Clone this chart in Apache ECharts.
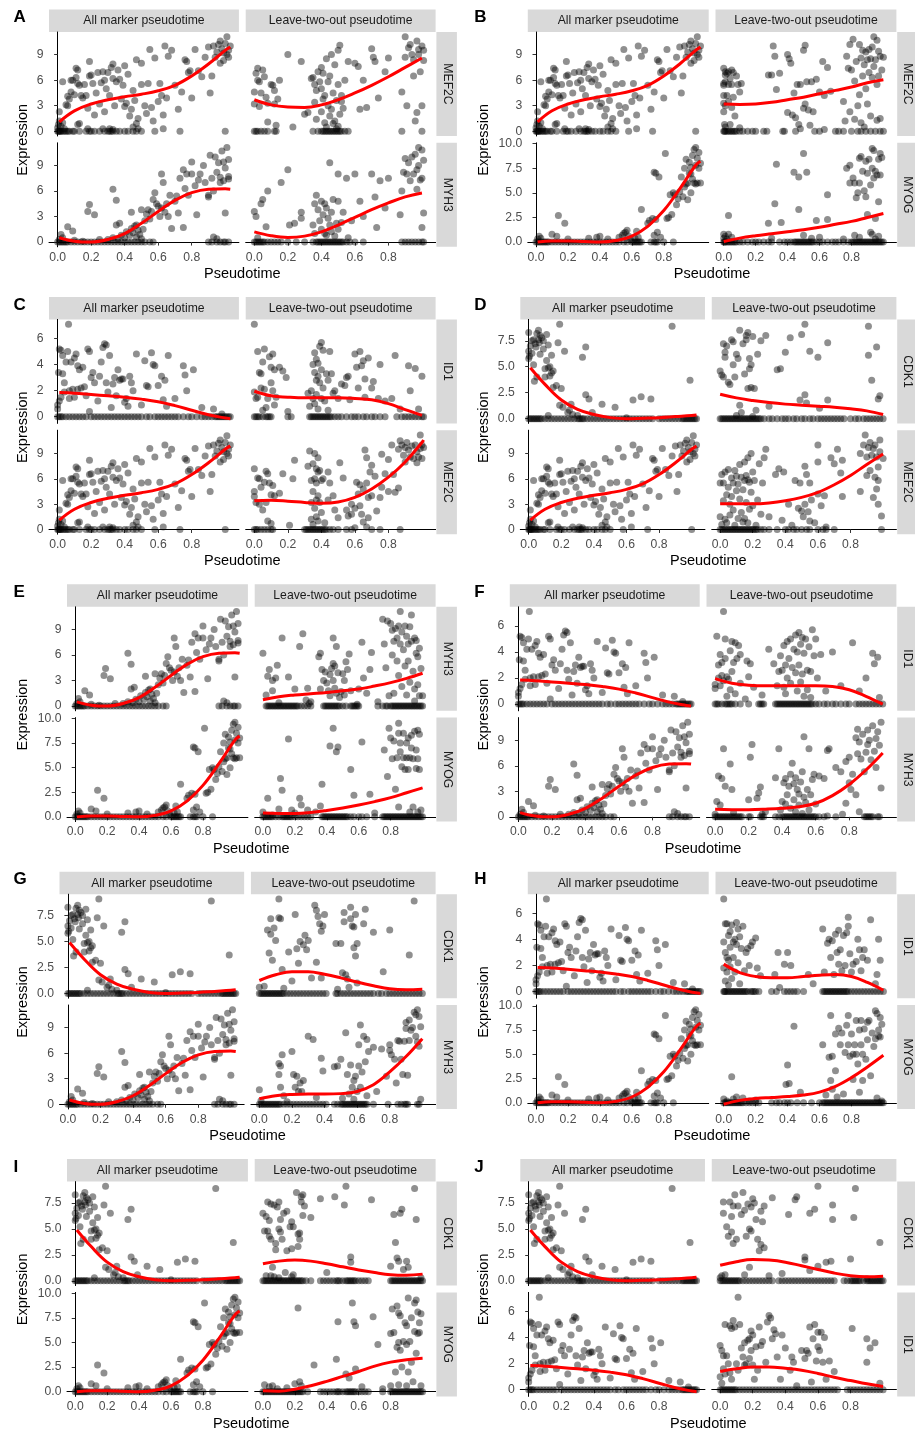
<!DOCTYPE html>
<html><head><meta charset="utf-8">
<script src="https://cdn.jsdelivr.net/npm/echarts@6/dist/echarts.min.js"></script>
<style>html,body{margin:0;padding:0;background:#fff}#c{width:915px;height:1437px}</style>
</head><body><div id="c"></div>
<script>
// ---------------- DATA ----------------
const panelLetters = ['A','B','C','D','E','F','G','H','I','J'];
const panelGenes = [['MEF2C','MYH3'],['MEF2C','MYOG'],['ID1','MEF2C'],['CDK1','MEF2C'],['MYH3','MYOG'],['ID1','MYH3'],['CDK1','MYH3'],['ID1','MYOG'],['CDK1','MYOG'],['CDK1','ID1']];
const stripLabels = ['All marker pseudotime','Leave-two-out pseudotime'];
const xTitle = 'Pseudotime';
const yTitle = 'Expression';
const xTicks = [0,0.2,0.4,0.6,0.8];
const yTicksMEF2C = [0,3,6,9];
const yTicksMYH3 = [0,3,6,9];
const yTicksMYOG = [0,2.5,5,7.5,10];
const yTicksID1 = [0,2,4,6];
const yTicksCDK1 = [0,2.5,5,7.5];

// All-marker pseudotime: non-zero points [pseudotime, expression]; *0 arrays = pseudotime of cells with expression 0
const allMEF2C = [[.0,.4],[.005,.8],[.01,1.2],[.02,.6],[.03,1.0],[.04,.3],[.12,.8],[.13,.9],[.18,.3],[.27,.3],[.31,.3],[.33,.2],[.45,.5],[.47,.9],[.48,.3],[.63,.3],[.01,2.3],[.03,5.8],[.05,3.1],[.06,3.0],[.06,4.1],[.07,3.8],[.08,4.6],[.08,6.0],[.09,6.0],[.1,4.3],[.11,7.4],[.12,7.2],[.11,6.3],[.12,5.6],[.13,5.4],[.14,4.2],[.15,3.9],[.16,5.5],[.17,4.2],[.18,2.7],[.19,8.2],[.19,6.5],[.2,6.6],[.21,5.6],[.22,1.9],[.23,4.5],[.24,6.9],[.25,3.2],[.26,5.7],[.27,7.0],[.28,6.0],[.28,2.3],[.29,5.0],[.3,6.9],[.31,4.2],[.32,7.5],[.33,7.9],[.33,6.2],[.34,3.0],[.35,5.8],[.36,7.2],[.37,6.1],[.38,3.8],[.39,5.4],[.4,7.7],[.4,2.9],[.41,3.3],[.42,6.7],[.43,1.8],[.44,2.6],[.45,4.8],[.46,3.6],[.47,8.4],[.48,1.5],[.5,5.5],[.5,8.0],[.52,3.0],[.53,2.1],[.54,5.6],[.55,9.6],[.56,2.8],[.57,1.2],[.58,8.6],[.6,3.5],[.61,5.6],[.62,4.2],[.63,1.9],[.64,10.0],[.65,3.9],[.66,8.8],[.68,9.5],[.7,5.4],[.72,2.6],[.74,4.6],[.76,8.4],[.77,8.2],[.78,6.9],[.79,7.1],[.8,3.9],[.82,9.6],[.84,7.1],[.86,6.4],[.88,8.7],[.9,9.9],[.91,4.5],[.92,6.5],[.93,10.0],[.94,8.7],[.95,9.3],[.96,10.2],[.97,10.6],[.98,9.7],[.99,8.3],[1.0,10.3],[1.01,11.1],[1.01,9.0],[1.02,8.7],[1.02,9.5],[1.03,10.0],[.99,9.2],[.97,8.0]];
const allMEF2C0 = [0,.005,.01,.015,.02,.03,.04,.05,.06,.07,.09,.1,.13,.17,.19,.2,.22,.25,.28,.3,.31,.32,.33,.35,.37,.4,.42,.45,.47,.5,.58,.73,1.0];
const allMYH3 = [[.01,.3],[.02,.9],[.03,.5],[.06,1.8],[.09,1.3],[.1,.2],[.15,.1],[.25,.3],[.3,.3],[.33,.5],[.36,.4],[.38,.8],[.4,.5],[.41,1.2],[.43,.8],[.44,1.6],[.45,1.1],[.46,1.9],[.47,.6],[.48,1.4],[.49,.9],[.5,.4],[.51,1.5],[.93,.6],[.95,.4],[.18,3.6],[.19,4.4],[.22,3.2],[.33,6.2],[.35,4.9],[.35,2.0],[.37,2.2],[.44,3.5],[.47,2.0],[.5,3.8],[.52,2.5],[.53,3.3],[.54,3.8],[.55,2.7],[.56,3.6],[.57,5.0],[.58,5.8],[.59,4.5],[.6,4.2],[.61,3.0],[.62,8.0],[.62,4.0],[.63,7.0],[.64,3.5],[.65,4.5],[.66,3.0],[.67,5.5],[.68,1.6],[.7,4.8],[.71,5.4],[.72,3.4],[.73,7.5],[.75,8.5],[.75,1.7],[.76,6.3],[.77,8.0],[.78,5.5],[.8,9.4],[.8,8.0],[.82,6.6],[.83,3.2],[.84,7.3],[.85,8.0],[.87,9.0],[.88,7.0],[.9,5.3],[.9,5.5],[.91,10.2],[.92,7.5],[.93,6.0],[.94,10.0],[.95,8.2],[.96,9.3],[.97,7.6],[.98,10.7],[.99,9.4],[.99,7.2],[1.0,8.7],[1.0,3.4],[1.01,11.1],[1.02,7.7],[1.02,9.7],[1.02,7.4],[.97,7.0]];
const allMYH30 = [0,.01,.02,.03,.04,.05,.06,.08,.1,.12,.14,.16,.18,.2,.22,.24,.26,.28,.3,.32,.34,.36,.38,.4,.42,.44,.46,.48,.5,.52,.55,.57,.9,.92,.95,.97,.99,1.0,1.02];
const allMYOG = [[.01,.3],[.02,.6],[.03,.4],[.1,.8],[.13,.6],[.2,.3],[.33,.4],[.38,.5],[.4,.6],[.45,.3],[.52,.5],[.54,.7],[.55,.9],[.56,1.0],[.57,1.2],[.58,.6],[.59,.3],[.62,.4],[.63,1.1],[.64,.5],[.66,3.3],[.7,1.9],[.71,2.2],[.73,2.4],[.74,.7],[.75,2.3],[.76,1.0],[.78,.5],[.14,2.7],[.18,1.9],[.74,7.1],[.75,7.0],[.77,6.6],[.81,9.0],[.82,2.4],[.83,2.5],[.84,4.8],[.85,2.8],[.86,5.0],[.87,4.8],[.88,3.8],[.89,4.4],[.9,5.1],[.91,6.6],[.92,4.6],[.93,7.5],[.93,5.6],[.94,8.4],[.95,4.3],[.95,6.0],[.96,8.1],[.96,7.0],[.97,7.6],[.97,5.0],[.98,8.8],[.98,6.4],[.99,9.4],[.99,6.0],[1.0,9.6],[1.0,7.8],[1.01,8.5],[1.01,6.0],[1.02,9.1],[1.02,7.5],[1.03,8.0],[1.03,6.0],[.94,5.9],[.97,6.9],[1.0,5.9]];
const allMYOG0 = [0,.01,.02,.03,.04,.05,.06,.07,.08,.1,.12,.14,.16,.18,.2,.22,.24,.26,.28,.3,.32,.34,.36,.38,.4,.42,.44,.46,.48,.5,.52,.55,.57,.6,.61,.62,.63,.64,.65,.66,.72,.74,.75,.76,.8,.86];
const allID1 = [[.0,.6],[.0,.9],[.01,1.2],[.005,3.4],[.01,5.2],[.02,5.1],[.02,1.5],[.03,4.7],[.03,3.3],[.04,2.6],[.04,1.9],[.05,4.2],[.06,5.0],[.065,7.1],[.07,1.4],[.07,2.0],[.08,4.2],[.09,2.1],[.1,4.5],[.1,1.5],[.11,4.8],[.12,3.9],[.12,2.1],[.13,3.6],[.14,2.2],[.15,3.8],[.16,2.3],[.17,1.6],[.18,5.2],[.19,5.0],[.19,.4],[.2,3.0],[.21,3.4],[.22,2.6],[.24,1.2],[.25,3.1],[.26,4.2],[.27,5.3],[.28,5.6],[.29,5.5],[.29,2.6],[.3,1.9],[.31,4.7],[.32,.7],[.33,2.5],[.34,3.0],[.35,1.6],[.36,3.6],[.37,2.8],[.38,2.9],[.39,2.9],[.4,1.1],[.41,1.4],[.42,.8],[.43,3.1],[.44,2.6],[.45,2.0],[.47,4.8],[.5,.9],[.52,4.3],[.53,2.4],[.54,2.3],[.56,4.9],[.57,4.0],[.58,3.9],[.6,2.4],[.62,3.1],[.63,1.3],[.64,2.8],[.65,.8],[.66,4.7],[.7,1.4],[.75,3.9],[.76,3.2],[.77,2.0],[.81,3.6],[.86,.7],[.93,.6],[.98,.2]];
const allID10 = [0,.01,.02,.03,.05,.07,.09,.11,.13,.15,.17,.2,.22,.24,.26,.28,.3,.32,.34,.36,.38,.4,.42,.44,.46,.48,.5,.53,.55,.58,.6,.62,.64,.66,.68,.7,.72,.75,.78,.8,.83,.86,.88,.9,.92,.94,.95,.96,.97,.98,.99,1.0,1.01,1.02,1.03];
const allCDK1 = [[.0,8.3],[.0,6.5],[.0,5.8],[.005,6.0],[.01,7.0],[.02,7.5],[.02,6.3],[.03,7.6],[.03,5.2],[.035,3.6],[.04,7.2],[.045,6.9],[.05,8.2],[.05,4.0],[.06,8.5],[.06,7.6],[.065,7.3],[.07,6.2],[.07,8.0],[.08,7.8],[.09,6.7],[.09,7.5],[.1,4.8],[.1,4.0],[.11,8.1],[.11,5.6],[.12,4.9],[.12,7.1],[.13,4.1],[.13,5.0],[.14,4.4],[.14,6.1],[.15,3.0],[.15,4.6],[.17,3.2],[.19,9.1],[.18,7.3],[.19,1.3],[.2,2.9],[.21,1.1],[.22,6.5],[.24,.6],[.25,.8],[.26,1.4],[.27,.4],[.3,.3],[.33,5.9],[.35,6.9],[.35,2.3],[.37,1.9],[.39,.6],[.45,1.4],[.53,1.1],[.64,1.8],[.69,2.1],[.75,1.9],[.88,8.9],[.99,3.7],[.12,.3],[.6,.1]];
const allCDK10 = [0,.01,.02,.03,.04,.05,.06,.07,.08,.1,.12,.14,.16,.18,.2,.22,.24,.26,.28,.3,.31,.32,.33,.34,.36,.38,.4,.42,.44,.46,.48,.5,.52,.54,.56,.58,.6,.62,.64,.66,.68,.7,.72,.74,.76,.8,.82,.84,.86,.88,.9,.92,.94,.95,.96,.97,.98,.99,1.0,1.01,1.02,1.03];

// All-marker smooth curves [pseudotime, fitted expression]
const curveAllMEF2C = [[.01,1.1],[.1,2.4],[.2,3.2],[.3,3.7],[.4,4.05],[.5,4.35],[.6,4.75],[.7,5.4],[.8,6.5],[.9,7.9],[1.0,9.5],[1.03,9.9]];
const curveAllMYH3 = [[.01,.5],[.1,.1],[.2,.0],[.3,.3],[.4,1.0],[.5,2.2],[.6,3.6],[.7,4.9],[.8,5.8],[.9,6.2],[1.0,6.25],[1.03,6.2]];
const curveAllMYOG = [[.01,.0],[.1,.1],[.2,.1],[.3,.05],[.4,.0],[.5,.15],[.6,.6],[.7,1.6],[.8,3.2],[.9,5.4],[1.0,7.8],[1.03,8.2]];
const curveAllID1 = [[.01,1.85],[.1,1.8],[.2,1.7],[.3,1.6],[.4,1.5],[.5,1.35],[.6,1.15],[.7,.85],[.8,.5],[.9,.15],[1.0,-.1],[1.03,-.15]];
const curveAllCDK1 = [[.01,4.9],[.1,3.3],[.2,1.8],[.3,.9],[.4,.4],[.5,.1],[.6,.0],[.7,.05],[.8,.1],[.9,.2],[1.0,.3],[1.03,.35]];

// Leave-two-out pseudotime, one pair of facets per panel
const ltoA_MEF2C = [[.0,4.6],[.0,3.2],[.01,6.8],[.02,7.4],[.02,6.0],[.03,5.8],[.04,4.5],[.05,7.2],[.06,6.4],[.07,4.0],[.08,1.1],[.1,5.5],[.11,5.4],[.12,3.2],[.12,4.8],[.13,.7],[.14,3.8],[.15,6.0],[.08,3.3],[.03,2.9],[.2,9.0],[.23,.5],[.28,8.2],[.3,2.0],[.32,2.2],[.34,6.2],[.35,6.3],[.36,5.5],[.36,3.4],[.37,1.4],[.37,4.8],[.38,7.0],[.39,5.8],[.4,5.0],[.4,7.5],[.4,2.3],[.41,3.8],[.41,6.8],[.42,1.0],[.42,4.2],[.43,8.5],[.43,.5],[.44,5.8],[.44,3.0],[.45,6.5],[.45,1.8],[.46,9.0],[.46,2.6],[.47,4.5],[.47,.9],[.48,7.8],[.48,1.2],[.49,3.6],[.49,.3],[.5,9.5],[.5,5.5],[.5,.6],[.51,10.1],[.51,2.0],[.52,4.2],[.52,3.5],[.53,2.7],[.54,6.0],[.56,8.2],[.6,8.0],[.62,7.6],[.63,2.6],[.65,6.0],[.67,2.8],[.7,9.7],[.71,8.7],[.72,8.2],[.74,3.9],[.78,7.0],[.8,8.6],[.88,4.6],[.9,8.7],[.9,11.1],[.91,3.0],[.92,9.8],[.93,10.2],[.94,9.0],[.95,8.4],[.96,1.2],[.97,10.6],[.98,9.6],[.98,9.0],[.99,7.0],[1.0,10.0],[1.0,3.0],[1.01,9.5],[1.01,8.3],[.95,6.5],[.97,2.2]];
const ltoA_MEF2C0 = [0,.01,.02,.04,.06,.08,.12,.13,.35,.38,.4,.41,.42,.43,.44,.45,.46,.47,.48,.49,.5,.51,.52,.54,.56,.88,1.0];
const ltoA_MYH3 = [[.0,3.6],[.01,3.0],[.02,.5],[.04,4.5],[.05,5.0],[.07,1.8],[.08,6.0],[.16,7.0],[.2,8.5],[.21,2.0],[.24,2.2],[.28,3.5],[.28,2.8],[.35,2.0],[.36,4.5],[.36,1.0],[.37,5.5],[.38,3.8],[.39,2.5],[.4,4.8],[.4,1.5],[.41,3.2],[.42,4.5],[.42,1.0],[.43,.8],[.43,4.0],[.44,2.8],[.45,9.3],[.45,2.0],[.46,3.5],[.46,1.2],[.47,5.0],[.48,.7],[.49,2.2],[.5,8.0],[.5,4.8],[.5,1.5],[.52,2.3],[.53,3.5],[.55,7.5],[.56,.5],[.58,2.5],[.6,8.0],[.63,4.8],[.65,3.0],[.7,8.0],[.72,5.3],[.73,1.7],[.75,7.2],[.78,4.0],[.8,7.5],[.87,3.2],[.88,6.0],[.89,8.2],[.9,9.8],[.91,8.0],[.92,9.3],[.93,7.2],[.94,10.0],[.95,8.0],[.96,10.3],[.97,8.5],[.97,6.2],[.98,11.1],[.98,9.0],[.99,7.3],[1.0,10.8],[1.0,7.5],[1.0,1.7],[1.01,9.6],[1.01,3.4]];
const ltoA_MYH30 = [0,.01,.02,.03,.04,.05,.06,.08,.1,.12,.14,.16,.2,.25,.3,.35,.37,.38,.39,.4,.41,.42,.43,.44,.45,.46,.47,.48,.49,.5,.51,.52,.53,.55,.57,.6,.65,.88,.9,.92,.94,.96,.98,1.0,1.01];
const ltoB_MEF2C = [[.0,7.4],[.0,5.6],[.0,5.4],[.0,4.2],[.0,3.3],[.0,2.3],[.005,.8],[.01,7.0],[.01,6.6],[.01,5.8],[.01,3.0],[.01,.5],[.02,6.8],[.02,4.2],[.03,7.0],[.03,5.5],[.03,3.5],[.04,6.2],[.04,.8],[.05,7.2],[.05,5.5],[.05,2.8],[.06,6.9],[.06,4.0],[.07,1.8],[.08,6.5],[.09,5.5],[.1,4.6],[.11,5.6],[.1,.4],[.28,6.6],[.3,6.6],[.31,10.0],[.32,8.8],[.33,4.9],[.35,6.8],[.4,9.0],[.4,2.2],[.41,8.5],[.42,8.0],[.43,1.9],[.44,4.5],[.45,1.6],[.46,5.5],[.47,.8],[.48,5.5],[.48,.3],[.5,9.5],[.5,2.7],[.51,10.1],[.51,3.2],[.52,5.8],[.53,2.5],[.54,.7],[.55,5.8],[.56,2.3],[.58,6.1],[.6,4.6],[.62,8.2],[.63,4.2],[.63,.2],[.65,7.5],[.67,4.7],[.75,3.5],[.76,1.2],[.77,8.8],[.78,7.4],[.79,10.2],[.79,2.3],[.8,7.2],[.81,10.8],[.82,5.9],[.82,1.4],[.83,8.2],[.84,3.0],[.85,10.2],[.85,4.3],[.86,8.6],[.86,1.0],[.87,9.5],[.87,6.5],[.88,7.8],[.88,.5],[.89,9.3],[.89,5.0],[.9,8.4],[.9,3.2],[.91,9.6],[.91,6.9],[.92,8.5],[.92,1.8],[.93,9.9],[.93,6.3],[.94,11.1],[.94,7.6],[.95,8.4],[.96,10.7],[.96,5.5],[.96,1.3],[.97,9.4],[.97,6.5],[.98,8.8],[.98,1.5],[.99,7.2],[1.0,8.7]];
const ltoB_MEF2C0 = [0,.005,.01,.02,.03,.04,.05,.06,.07,.08,.1,.12,.15,.18,.2,.25,.27,.37,.38,.45,.57,.6,.7,.72,.75,.8,.84,.86,.89,.92,.95,.98,1.0];
const ltoB_MYOG = [[.0,.4],[.0,.8],[.01,.6],[.02,.3],[.03,.8],[.05,.5],[.3,.4],[.5,.7],[.55,.4],[.6,.5],[.75,.3],[.82,.7],[.85,.5],[.92,1.0],[.93,.8],[.95,.3],[.97,.6],[.03,2.7],[.28,1.9],[.32,3.9],[.33,7.9],[.36,2.0],[.44,7.1],[.47,6.6],[.47,3.3],[.5,9.0],[.52,7.1],[.58,2.2],[.65,4.8],[.65,2.3],[.77,7.5],[.79,7.8],[.79,6.0],[.81,6.5],[.82,6.0],[.83,4.5],[.84,5.0],[.85,8.5],[.85,6.0],[.86,8.7],[.87,7.2],[.88,5.2],[.89,8.2],[.89,4.6],[.9,7.0],[.9,2.8],[.91,8.4],[.92,5.8],[.93,9.5],[.93,7.5],[.94,9.3],[.94,6.5],[.95,7.2],[.95,2.4],[.96,6.8],[.97,8.4],[.97,4.1],[.98,9.0],[.98,6.8],[.99,8.6]];
const ltoB_MYOG0 = [0,.005,.01,.02,.03,.04,.05,.06,.07,.08,.1,.12,.15,.18,.2,.22,.25,.28,.3,.35,.38,.4,.42,.44,.45,.46,.47,.48,.49,.5,.51,.52,.53,.54,.55,.56,.58,.6,.62,.65,.68,.7,.72,.75,.78,.8,.81,.82,.83,.84,.85,.86,.87,.88,.89,.9,.91,.92,.93,.94,.95,.96,.97,.98,.99,1.0];
const ltoC_ID1 = [[.0,7.1],[.0,1.9],[.01,1.4],[.02,1.5],[.02,5.0],[.03,3.4],[.04,2.2],[.04,3.3],[.05,.5],[.05,4.2],[.06,2.1],[.06,5.2],[.07,.7],[.08,1.4],[.09,4.6],[.1,3.8],[.1,2.6],[.11,4.8],[.11,2.0],[.12,3.6],[.12,.9],[.13,1.5],[.15,3.8],[.17,3.5],[.19,3.0],[.2,.4],[.32,1.8],[.33,.8],[.34,2.0],[.35,4.0],[.35,1.4],[.36,4.9],[.36,3.4],[.36,1.0],[.37,4.4],[.37,2.8],[.37,1.7],[.38,4.1],[.38,3.1],[.38,.6],[.39,5.4],[.39,2.6],[.4,5.7],[.4,3.6],[.4,1.4],[.41,5.1],[.41,2.2],[.42,1.2],[.43,3.3],[.44,2.8],[.44,.5],[.45,5.0],[.46,3.3],[.47,1.8],[.48,2.0],[.5,1.4],[.52,2.5],[.54,2.4],[.55,3.0],[.56,3.1],[.57,1.3],[.6,4.8],[.61,3.8],[.62,2.2],[.63,5.0],[.64,3.9],[.65,4.3],[.66,1.5],[.66,2.9],[.68,4.5],[.7,2.2],[.71,2.7],[.74,1.4],[.75,4.0],[.78,1.2],[.82,1.4],[.84,4.7],[.87,.6],[.92,3.9],[.93,2.0],[.96,3.7],[.98,.6],[1.0,3.1]];
const ltoC_ID10 = [0,.01,.02,.03,.05,.07,.08,.09,.1,.2,.22,.33,.34,.35,.36,.37,.38,.39,.4,.41,.42,.43,.44,.45,.46,.48,.5,.52,.55,.58,.6,.62,.65,.67,.7,.72,.75,.78,.85,.88,.9,.92,.94,.96,.98,1.0,1.01];
const ltoC_MEF2C = [[.0,3.9],[.0,7.2],[.0,4.5],[.01,3.2],[.02,6.1],[.03,6.0],[.03,3.0],[.04,5.0],[.05,2.3],[.06,5.6],[.07,6.9],[.07,3.2],[.08,6.6],[.08,1.0],[.09,5.5],[.1,4.1],[.1,.7],[.11,5.2],[.12,4.0],[.15,4.3],[.17,6.6],[.21,.5],[.23,6.0],[.24,8.2],[.32,7.5],[.33,9.3],[.34,5.8],[.34,3.2],[.34,1.2],[.35,7.8],[.35,4.5],[.35,.6],[.36,9.0],[.36,6.0],[.36,2.5],[.37,7.2],[.37,5.5],[.37,3.5],[.37,1.5],[.38,8.5],[.38,6.8],[.38,4.0],[.38,1.0],[.39,7.0],[.39,3.2],[.4,5.8],[.4,2.0],[.41,6.0],[.42,.8],[.44,6.8],[.44,3.5],[.45,5.5],[.47,4.0],[.48,2.3],[.5,1.4],[.51,7.9],[.53,6.1],[.55,2.3],[.56,1.6],[.58,1.8],[.58,3.0],[.6,2.5],[.61,5.6],[.62,4.2],[.63,2.8],[.63,5.3],[.64,1.8],[.65,.9],[.65,4.8],[.66,9.4],[.67,8.5],[.67,5.5],[.68,1.4],[.68,3.8],[.69,6.8],[.7,7.6],[.7,4.0],[.72,6.3],[.73,2.2],[.75,3.8],[.76,8.9],[.76,5.0],[.78,6.6],[.8,4.5],[.8,8.3],[.82,10.0],[.83,6.5],[.84,4.4],[.86,4.9],[.86,9.5],[.87,10.5],[.88,10.0],[.89,8.8],[.9,9.7],[.9,8.0],[.91,10.3],[.92,9.4],[.93,8.6],[.94,9.9],[.95,8.4],[.96,10.0],[.97,9.2],[.98,8.6],[.99,11.2],[.99,9.6],[1.0,10.0],[1.0,8.4],[1.01,9.7],[.97,7.9],[.67,.3],[.6,.2]];
const ltoC_MEF2C0 = [0,.01,.02,.04,.06,.08,.1,.11,.3,.31,.32,.33,.34,.35,.36,.37,.38,.39,.4,.41,.42,.43,.45,.47,.5,.55,.58,.7,.75,.87];
const ltoD_CDK1 = [[.0,4.6],[.01,4.2],[.02,7.2],[.02,4.0],[.03,6.4],[.03,5.9],[.04,7.0],[.05,3.5],[.06,3.3],[.07,7.6],[.08,7.4],[.08,5.2],[.09,4.0],[.1,6.2],[.11,5.8],[.12,8.5],[.12,1.3],[.13,.6],[.14,7.2],[.15,4.3],[.16,8.0],[.16,7.6],[.17,8.3],[.17,2.9],[.18,5.8],[.18,4.8],[.19,5.2],[.19,3.0],[.2,7.9],[.21,2.9],[.22,.8],[.23,6.2],[.25,7.5],[.28,8.0],[.3,1.2],[.35,4.7],[.37,4.8],[.4,6.4],[.43,7.8],[.49,1.8],[.5,8.1],[.52,9.1],[.52,2.3],[.53,1.5],[.55,6.5],[.6,5.9],[.61,1.0],[.66,7.3],[.66,1.8],[.91,6.1],[.91,8.9],[.93,3.7],[.96,6.9],[.97,1.9],[.98,2.2],[.1,.3],[.2,.2]];
const ltoD_CDK10 = [0,.01,.02,.03,.04,.05,.06,.07,.08,.09,.1,.11,.12,.13,.14,.15,.16,.17,.18,.19,.2,.21,.22,.23,.24,.25,.27,.3,.32,.35,.38,.4,.42,.45,.47,.5,.52,.55,.57,.6,.62,.64,.66,.68,.7,.72,.74,.76,.8,.83,.85,.88,.9,.92,.94,.96,.98,1.0];
const ltoD_MEF2C = [[.0,5.5],[.0,1.5],[.01,6.5],[.01,.6],[.02,5.5],[.02,3.4],[.03,6.8],[.03,1.2],[.04,4.1],[.04,.8],[.05,7.1],[.05,5.0],[.06,3.0],[.06,1.7],[.07,6.1],[.07,3.9],[.08,5.5],[.08,2.3],[.09,7.0],[.09,.5],[.1,6.3],[.1,4.6],[.11,5.4],[.11,1.3],[.12,7.7],[.12,3.6],[.13,6.2],[.13,2.0],[.14,4.7],[.14,.9],[.15,8.0],[.15,5.8],[.15,1.3],[.16,6.4],[.16,3.2],[.17,8.5],[.17,5.9],[.17,.8],[.18,5.6],[.18,2.4],[.19,9.0],[.19,4.4],[.2,6.8],[.2,2.8],[.21,5.8],[.22,.5],[.23,3.5],[.24,7.8],[.25,1.8],[.26,5.5],[.27,8.5],[.28,9.5],[.3,1.5],[.34,6.5],[.36,7.2],[.38,1.1],[.39,6.8],[.42,3.0],[.44,.5],[.46,5.8],[.48,2.5],[.49,5.5],[.5,2.2],[.51,1.5],[.52,7.5],[.52,3.0],[.53,6.5],[.54,2.1],[.55,5.5],[.55,1.0],[.56,3.5],[.58,.8],[.6,10.0],[.6,8.0],[.6,4.2],[.62,2.8],[.64,4.0],[.65,.3],[.68,8.5],[.7,7.8],[.72,9.5],[.75,3.9],[.75,8.2],[.74,6.7],[.86,4.5],[.86,9.0],[.88,10.0],[.89,11.2],[.9,8.6],[.9,6.4],[.91,9.7],[.92,7.0],[.92,10.3],[.93,8.8],[.94,9.6],[.95,6.2],[.95,10.0],[.96,4.8],[.96,8.6],[.97,3.0],[.97,7.4],[.98,10.6],[.98,9.2],[.99,1.6],[1.0,8.4],[.94,3.8],[.97,5.8]];
const ltoD_MEF2C0 = [0,.01,.02,.03,.04,.05,.06,.07,.08,.09,.1,.11,.12,.13,.14,.15,.16,.17,.18,.19,.2,.21,.22,.23,.25,.27,.3,.35,.4,.42,.45,.47,.5,.53,.55,.6,.63,.65,.7,.99];
const ltoE_MYH3 = [[.0,6.2],[.02,1.3],[.03,3.5],[.04,4.3],[.06,3.0],[.06,1.8],[.08,3.3],[.09,4.8],[.1,.4],[.12,8.0],[.16,3.4],[.2,2.0],[.23,7.0],[.25,8.5],[.27,.7],[.28,2.1],[.29,.3],[.3,.5],[.35,5.8],[.36,6.2],[.36,2.0],[.37,4.3],[.38,3.0],[.39,4.0],[.4,2.7],[.41,1.8],[.42,1.2],[.42,3.7],[.43,4.4],[.44,8.0],[.44,5.0],[.44,3.0],[.45,4.7],[.45,2.1],[.46,7.0],[.46,1.5],[.47,3.9],[.48,1.0],[.49,1.7],[.5,3.8],[.51,1.3],[.51,3.0],[.52,5.2],[.53,4.3],[.54,6.1],[.55,1.8],[.59,.2],[.6,2.0],[.62,7.5],[.63,3.3],[.65,1.5],[.67,4.3],[.68,6.3],[.72,.5],[.75,10.2],[.76,7.3],[.77,4.5],[.78,10.0],[.79,1.2],[.8,9.7],[.81,8.9],[.81,6.0],[.82,1.5],[.82,7.6],[.83,9.1],[.84,8.0],[.84,5.3],[.85,9.4],[.85,3.6],[.86,11.1],[.86,7.3],[.87,8.7],[.87,2.3],[.88,6.6],[.89,9.4],[.89,4.7],[.9,1.3],[.9,8.2],[.91,7.3],[.91,5.3],[.92,9.3],[.92,2.8],[.93,10.7],[.93,7.6],[.94,4.1],[.95,8.0],[.95,.6],[.96,7.7],[.96,6.2],[.97,5.8],[.97,2.5],[.98,6.8],[.98,1.2],[.99,4.4],[1.0,1.2],[.95,2.0]];
const ltoE_MYH30 = [.02,.03,.04,.05,.06,.07,.08,.09,.1,.11,.12,.13,.14,.15,.16,.17,.18,.19,.2,.21,.22,.24,.26,.28,.3,.38,.39,.4,.41,.42,.43,.44,.45,.46,.47,.48,.5,.52,.55,.56,.57,.58,.59,.6,.72,.75,.77,.78,.8,.81,.82,.83,.84,.85,.86,.87,.88,.89,.9,.91,.92,.93,.94,.95,.96,.97,.98,.99,1.0];
const ltoE_MYOG = [[.0,.5],[.03,1.9],[.06,.2],[.1,.8],[.11,3.9],[.12,2.7],[.16,7.9],[.18,.7],[.2,.4],[.23,1.9],[.24,1.2],[.28,.7],[.33,.5],[.36,1.1],[.37,3.3],[.42,7.2],[.44,9.0],[.46,6.6],[.47,7.1],[.55,4.8],[.57,2.2],[.62,7.6],[.67,2.3],[.7,.4],[.76,6.8],[.78,4.1],[.79,9.0],[.8,8.0],[.81,5.9],[.82,7.7],[.83,2.8],[.84,6.0],[.85,9.5],[.85,8.5],[.85,1.0],[.86,7.5],[.86,6.6],[.87,5.1],[.88,8.5],[.88,6.0],[.89,4.8],[.9,7.5],[.9,6.0],[.91,8.0],[.91,4.8],[.92,6.0],[.92,.5],[.93,8.3],[.93,7.0],[.94,5.9],[.95,8.7],[.96,4.9],[.96,6.8],[.97,8.8],[.97,5.9],[.98,8.4],[.98,4.8],[.99,.7],[.94,1.0],[.97,.5]];
const ltoE_MYOG0 = [0,.01,.02,.03,.04,.05,.06,.08,.1,.12,.13,.14,.15,.16,.17,.18,.2,.22,.24,.26,.28,.3,.37,.38,.39,.4,.41,.42,.43,.44,.45,.46,.47,.48,.49,.5,.51,.52,.53,.55,.57,.6,.62,.65,.7,.75,.76,.77,.78,.79,.8,.81,.82,.83,.84,.85,.86,.87,.88,.89,.9,.91,.92,.93,.94,.95,.96,.97,.98,.99,1.0];
const ltoF_ID1 = [[.0,1.5],[.0,1.2],[.01,5.2],[.02,2.0],[.02,3.0],[.03,1.4],[.03,3.8],[.04,2.2],[.04,3.2],[.05,7.1],[.05,1.8],[.06,5.0],[.06,3.5],[.07,2.1],[.07,.6],[.08,1.9],[.09,1.1],[.09,4.1],[.1,4.8],[.1,2.5],[.11,3.2],[.12,4.7],[.12,.8],[.13,3.5],[.14,4.5],[.15,1.6],[.15,3.8],[.18,.4],[.19,3.3],[.2,2.1],[.21,3.1],[.23,1.3],[.28,.7],[.32,4.2],[.35,3.1],[.37,1.4],[.38,2.5],[.39,3.7],[.4,2.6],[.41,4.5],[.41,1.3],[.42,3.0],[.42,.8],[.43,4.8],[.43,2.0],[.44,3.5],[.45,1.6],[.45,5.0],[.46,2.8],[.47,4.2],[.48,5.3],[.48,2.4],[.49,4.0],[.49,1.0],[.5,5.5],[.5,3.0],[.51,4.6],[.51,1.7],[.52,5.1],[.52,2.3],[.53,3.9],[.53,.6],[.54,5.0],[.55,2.6],[.55,1.1],[.56,4.4],[.57,2.5],[.57,.5],[.58,5.7],[.59,3.7],[.6,5.0],[.61,2.0],[.63,3.8],[.66,1.0],[.7,4.0],[.75,1.4],[.82,4.7],[.86,1.0],[.9,2.0],[.94,3.9],[.95,3.1],[.97,3.6],[.98,.5]];
const ltoF_ID10 = [0,.01,.02,.04,.06,.07,.08,.09,.1,.12,.15,.2,.26,.27,.28,.29,.36,.37,.38,.39,.4,.41,.42,.43,.44,.45,.46,.47,.48,.49,.5,.51,.52,.53,.54,.55,.56,.57,.58,.6,.62,.65,.67,.7,.72,.75,.78,.8,.84,.86,.88,.9,.92,.94,.96,.98,1.0];
const ltoF_MYH3 = [[.0,.3],[.01,1.8],[.02,4.8],[.03,1.4],[.04,4.5],[.05,8.0],[.06,3.6],[.09,6.2],[.1,3.2],[.11,.5],[.2,2.0],[.21,7.0],[.22,8.5],[.25,2.2],[.26,2.8],[.27,3.5],[.28,.3],[.3,.6],[.36,4.6],[.38,8.0],[.39,.8],[.4,1.8],[.41,4.0],[.42,1.5],[.42,4.5],[.43,2.6],[.44,3.6],[.45,1.0],[.45,5.0],[.46,6.3],[.47,3.9],[.47,2.0],[.48,4.6],[.48,.6],[.49,3.2],[.5,1.4],[.5,2.7],[.51,4.1],[.52,.4],[.52,5.3],[.53,9.4],[.53,2.3],[.54,1.7],[.55,3.2],[.56,.8],[.56,8.0],[.57,2.6],[.58,4.4],[.59,5.0],[.6,1.5],[.62,4.8],[.65,4.5],[.67,7.8],[.67,.1],[.68,8.0],[.72,5.8],[.75,5.3],[.76,.3],[.78,6.5],[.78,1.6],[.8,7.0],[.8,4.0],[.81,3.2],[.82,5.0],[.84,9.3],[.84,2.6],[.85,10.3],[.85,7.4],[.86,8.8],[.86,.6],[.87,6.8],[.88,9.7],[.89,5.3],[.9,7.6],[.91,10.2],[.91,8.5],[.92,9.0],[.93,6.7],[.94,10.7],[.95,7.7],[.96,9.2],[.96,5.8],[.97,10.0],[.98,8.4],[.99,11.1],[.99,3.4]];
const ltoF_MYH30 = [0,.01,.02,.03,.04,.05,.06,.07,.08,.09,.1,.11,.12,.13,.14,.15,.16,.2,.21,.27,.28,.29,.36,.38,.4,.41,.42,.43,.44,.45,.46,.47,.48,.49,.5,.51,.52,.53,.54,.55,.56,.57,.58,.59,.6,.62,.65,.72,.89,.9,.91,.92,.93,.94,.97,.98];
const ltoG_CDK1 = [[.0,.6],[.03,.7],[.05,6.1],[.06,3.9],[.07,7.2],[.07,5.7],[.08,3.2],[.09,6.3],[.1,5.1],[.12,9.1],[.12,7.3],[.13,7.2],[.14,2.3],[.15,.5],[.18,4.0],[.2,1.2],[.22,7.6],[.23,4.3],[.24,2.9],[.25,5.0],[.27,4.7],[.28,5.6],[.29,4.2],[.3,5.1],[.32,1.5],[.34,8.5],[.35,8.0],[.35,3.0],[.36,7.4],[.37,6.7],[.38,6.0],[.38,1.5],[.39,6.5],[.4,7.6],[.47,4.8],[.48,.4],[.5,4.8],[.51,2.0],[.52,7.8],[.52,6.9],[.53,1.8],[.54,1.4],[.55,.6],[.56,8.3],[.56,7.2],[.57,6.5],[.58,6.4],[.58,4.4],[.59,7.6],[.59,3.6],[.6,4.8],[.6,1.0],[.64,6.7],[.65,8.1],[.7,5.9],[.76,2.1],[.8,6.1],[.95,8.9],[.92,3.7]];
const ltoG_CDK10 = [0,.01,.02,.03,.04,.05,.06,.07,.08,.09,.1,.11,.12,.13,.14,.15,.17,.19,.21,.23,.25,.27,.29,.31,.33,.35,.37,.39,.41,.47,.48,.5,.52,.54,.56,.58,.6,.62,.64,.66,.68,.7,.73,.75,.78,.8,.82,.84,.86,.88,.9,.92,.94,.96,.98,1.0];
const ltoG_MYH3 = [[.0,1.7],[.01,.4],[.12,4.8],[.12,3.5],[.13,4.5],[.13,2.0],[.14,5.8],[.15,1.0],[.17,.3],[.2,6.2],[.21,3.5],[.22,2.0],[.23,3.3],[.24,1.5],[.25,2.5],[.26,1.5],[.27,2.8],[.3,8.0],[.33,7.6],[.35,.8],[.38,5.4],[.39,3.9],[.46,4.4],[.48,4.5],[.5,5.3],[.51,.7],[.53,8.4],[.54,3.5],[.55,1.2],[.56,4.6],[.57,2.0],[.58,2.8],[.58,.6],[.59,3.3],[.6,1.5],[.61,4.5],[.61,7.0],[.62,9.3],[.62,2.0],[.63,3.8],[.64,8.0],[.65,5.0],[.66,7.6],[.66,1.0],[.67,6.2],[.7,6.7],[.72,1.5],[.75,6.5],[.78,3.3],[.8,7.0],[.8,6.3],[.81,5.8],[.83,5.3],[.84,2.5],[.85,7.5],[.86,7.4],[.87,5.3],[.88,3.5],[.89,7.4],[.9,9.6],[.9,8.9],[.91,3.4],[.92,9.9],[.92,7.5],[.93,8.7],[.94,9.0],[.95,10.8],[.96,10.5],[.96,8.0],[.97,11.1],[.97,7.3],[.98,10.3],[.98,6.8],[.99,9.1],[.99,.6]];
const ltoG_MYH30 = [0,.01,.02,.03,.04,.05,.06,.07,.08,.09,.1,.11,.12,.13,.15,.17,.19,.21,.23,.25,.27,.29,.31,.33,.35,.37,.39,.41,.46,.48,.5,.51,.52,.53,.54,.55,.56,.57,.58,.59,.6,.61,.62,.63,.64,.65,.66,.7,.79,.85,.87,.89,.9,.91,.97,.98];
const ltoH_ID1 = [[.0,7.1],[.0,3.8],[.0,1.8],[.01,5.2],[.01,3.0],[.01,.8],[.02,5.2],[.02,2.6],[.02,1.5],[.03,4.3],[.03,2.4],[.03,.5],[.04,4.6],[.04,3.4],[.04,1.9],[.05,5.1],[.05,1.0],[.06,3.8],[.06,2.6],[.07,4.0],[.07,1.5],[.08,5.3],[.08,3.6],[.09,4.8],[.09,2.2],[.1,4.2],[.1,.6],[.11,3.3],[.12,5.0],[.13,1.6],[.14,3.0],[.15,3.3],[.16,2.0],[.17,3.5],[.18,3.8],[.2,4.1],[.21,1.8],[.23,1.2],[.32,1.3],[.34,3.0],[.35,.3],[.38,2.1],[.4,3.0],[.42,2.0],[.53,1.3],[.56,.6],[.62,4.8],[.63,1.5],[.65,3.7],[.66,4.0],[.67,2.6],[.68,3.9],[.69,1.3],[.7,4.4],[.71,3.0],[.72,2.1],[.72,4.7],[.73,3.2],[.74,1.6],[.75,4.3],[.76,2.0],[.77,4.5],[.78,5.0],[.78,5.7],[.79,2.9],[.8,1.5],[.81,2.1],[.83,2.3],[.84,4.0],[.85,3.2],[.86,1.6],[.87,2.6],[.88,3.2],[.9,2.4],[.92,5.5],[.96,1.3],[.97,4.0],[.98,2.4],[.95,.6]];
const ltoH_ID10 = [0,.005,.01,.02,.03,.04,.05,.06,.07,.08,.09,.1,.11,.12,.13,.14,.15,.17,.18,.19,.2,.22,.3,.33,.38,.4,.42,.44,.46,.5,.62,.63,.64,.65,.66,.67,.68,.69,.7,.71,.72,.73,.74,.75,.76,.77,.78,.8,.82,.84,.86,.88,.9,.92,.94,.96,.98,1.0];
const ltoH_MYOG = [[.0,.4],[.02,.2],[.05,2.7],[.06,.4],[.08,.6],[.12,.5],[.16,.2],[.2,.3],[.39,1.9],[.4,3.9],[.41,2.0],[.44,7.9],[.48,1.1],[.62,6.0],[.64,.8],[.66,4.7],[.67,2.3],[.67,9.0],[.68,4.8],[.68,1.4],[.7,7.1],[.7,3.3],[.71,.6],[.72,7.7],[.73,6.0],[.74,7.2],[.75,.9],[.76,5.2],[.77,8.0],[.78,9.0],[.78,6.0],[.79,4.8],[.8,7.1],[.81,5.0],[.81,2.4],[.82,6.0],[.83,8.5],[.83,5.0],[.84,4.0],[.85,7.5],[.85,1.1],[.86,8.5],[.86,6.0],[.87,5.0],[.87,2.3],[.88,7.6],[.89,4.5],[.9,8.3],[.9,6.5],[.91,8.5],[.92,2.8],[.93,7.2],[.94,5.8],[.95,9.5],[.95,6.6],[.96,9.2],[.96,.5],[.97,7.5],[.97,6.9],[.98,8.8],[.98,6.8],[.99,8.1],[.99,.2]];
const ltoH_MYOG0 = [0,.01,.02,.03,.04,.05,.06,.07,.08,.09,.1,.11,.12,.14,.16,.18,.2,.22,.3,.33,.35,.38,.4,.42,.46,.5,.55,.6,.62,.63,.64,.65,.66,.67,.68,.69,.7,.71,.72,.73,.74,.75,.76,.77,.78,.79,.8,.81,.82,.83,.84,.85,.86,.87,.88,.89,.9,.91,.92,.93,.94,.95,.96,.97,.98,.99,1.0];
const ltoI_CDK1 = [[.0,6.5],[.01,4.8],[.02,6.2],[.03,4.8],[.03,7.6],[.04,5.8],[.04,4.3],[.05,7.4],[.05,4.0],[.06,1.3],[.07,7.3],[.08,3.0],[.08,3.6],[.09,7.1],[.1,5.0],[.1,7.6],[.11,5.9],[.11,4.7],[.12,4.0],[.13,6.5],[.14,.8],[.15,2.9],[.15,6.7],[.17,5.2],[.18,3.1],[.18,5.7],[.19,5.2],[.21,8.5],[.22,4.5],[.22,3.3],[.23,4.6],[.23,4.0],[.24,7.6],[.24,8.1],[.25,8.3],[.25,6.3],[.26,7.2],[.3,6.1],[.02,.5],[.05,.5],[.07,.4],[.1,.3],[.18,.4],[.19,.6],[.36,7.9],[.4,.8],[.45,8.1],[.51,7.3],[.52,9.1],[.55,2.3],[.55,1.8],[.68,7.8],[.8,1.4],[.82,6.4],[.83,3.7],[.84,2.2],[.85,1.9],[.86,6.5],[.87,6.9],[.88,1.1],[.9,1.9],[.91,1.3],[.95,8.9],[.96,5.9],[.99,.3]];
const ltoI_CDK10 = [0,.01,.02,.03,.04,.05,.06,.07,.08,.09,.1,.11,.12,.13,.14,.15,.16,.17,.18,.19,.2,.21,.22,.23,.24,.25,.27,.3,.36,.38,.4,.42,.44,.46,.47,.48,.5,.52,.53,.54,.55,.56,.57,.58,.6,.62,.64,.66,.8,.81,.82,.83,.84,.85,.86,.87,.88,.89,.9,.91,.92,.93,.94,.95,.96,.97,.98,.99,1.0];
const ltoI_MYOG = [[.01,.7],[.04,.5],[.06,.6],[.09,.3],[.15,.4],[.2,.8],[.22,8.5],[.23,1.0],[.24,.6],[.32,2.7],[.46,3.3],[.47,7.1],[.52,1.8],[.54,1.4],[.56,9.0],[.57,7.1],[.58,6.7],[.58,2.3],[.62,.5],[.69,7.6],[.72,4.8],[.75,.3],[.8,5.9],[.8,.6],[.81,8.4],[.82,6.0],[.83,2.0],[.84,8.7],[.84,4.5],[.85,8.0],[.85,5.0],[.86,7.7],[.86,4.2],[.87,2.5],[.88,5.1],[.89,7.0],[.9,6.7],[.9,4.8],[.91,9.5],[.91,2.0],[.92,5.1],[.93,7.5],[.93,3.0],[.94,1.0],[.95,9.0],[.95,6.1],[.96,9.3],[.96,3.9],[.97,8.1],[.97,5.9],[.98,7.0],[.98,6.0],[.99,7.9],[.99,.6],[.9,.6],[.85,.7]];
const ltoI_MYOG0 = [0,.01,.02,.03,.04,.05,.06,.07,.08,.09,.1,.11,.12,.13,.14,.15,.16,.17,.18,.19,.2,.21,.22,.23,.24,.25,.28,.36,.38,.4,.42,.44,.46,.47,.48,.5,.52,.53,.54,.55,.56,.57,.58,.6,.62,.64,.66,.75,.8,.81,.82,.83,.84,.85,.86,.87,.88,.89,.9,.91,.92,.93,.94,.95,.96,.97,.98,.99,1.0];
const ltoJ_CDK1 = [[.0,.3],[.01,.5],[.02,7.6],[.02,6.5],[.03,.6],[.04,5.2],[.05,4.3],[.06,7.6],[.07,6.2],[.07,4.7],[.08,7.2],[.08,3.6],[.09,8.3],[.1,4.0],[.11,7.2],[.13,6.4],[.14,8.5],[.15,6.8],[.16,4.3],[.17,7.4],[.18,5.0],[.18,1.3],[.19,4.8],[.19,7.1],[.2,7.9],[.21,7.5],[.22,5.9],[.23,4.0],[.24,2.9],[.25,6.7],[.26,5.7],[.27,7.2],[.27,3.2],[.15,.6],[.25,3.5],[.3,.5],[.32,8.0],[.38,.7],[.42,6.4],[.46,7.8],[.47,8.1],[.52,2.3],[.52,2.0],[.55,6.5],[.58,6.9],[.6,9.1],[.6,1.4],[.65,1.8],[.68,1.9],[.69,7.3],[.69,5.9],[.8,2.1],[.82,6.1],[.83,8.9],[.98,3.7],[.9,.2],[.55,1.0]];
const ltoJ_CDK10 = [0,.01,.02,.03,.04,.05,.06,.07,.08,.09,.1,.11,.12,.14,.16,.18,.2,.22,.24,.26,.28,.3,.32,.36,.38,.4,.42,.44,.46,.48,.5,.52,.54,.56,.58,.6,.62,.64,.66,.68,.7,.76,.78,.8,.81,.82,.83,.84,.85,.86,.88,.9,.91,.92,.93,.94,.95,.96,.97,.98,.99,1.0];
const ltoJ_ID1 = [[.0,3.4],[.0,1.0],[.01,3.0],[.01,.5],[.02,2.6],[.02,1.6],[.03,5.0],[.03,1.2],[.04,2.6],[.05,2.0],[.06,4.9],[.06,1.3],[.07,.8],[.07,4.7],[.08,5.3],[.09,4.8],[.1,2.0],[.11,7.1],[.11,1.5],[.12,5.0],[.13,3.2],[.14,2.5],[.15,1.9],[.15,3.6],[.16,2.0],[.17,3.8],[.18,3.9],[.18,2.4],[.19,4.5],[.19,3.0],[.2,4.2],[.2,1.9],[.21,.8],[.22,3.3],[.23,1.5],[.24,4.8],[.25,3.4],[.26,3.7],[.28,2.1],[.29,5.2],[.3,5.7],[.31,5.5],[.32,3.9],[.33,4.6],[.34,4.3],[.35,2.5],[.37,.8],[.38,4.2],[.4,3.2],[.43,1.5],[.44,2.5],[.45,2.1],[.47,.3],[.5,3.0],[.52,2.4],[.53,3.0],[.54,2.8],[.55,4.8],[.56,.6],[.57,3.9],[.58,5.0],[.59,2.2],[.6,4.4],[.6,3.3],[.61,3.0],[.62,4.4],[.63,2.1],[.64,4.0],[.65,.8],[.67,2.2],[.7,1.4],[.81,4.7],[.9,2.1],[.9,3.9],[.92,3.2],[.95,3.6],[.98,.5]];
const ltoJ_ID10 = [0,.01,.02,.03,.04,.05,.06,.07,.08,.09,.1,.12,.14,.16,.18,.2,.22,.24,.26,.28,.3,.32,.34,.36,.38,.4,.42,.44,.46,.48,.5,.52,.54,.56,.58,.6,.62,.64,.66,.68,.7,.72,.78,.8,.82,.84,.86,.88,.9,.92,.94,.96,.98,1.0];

// Leave-two-out smooth curves
const curveA_MEF2C = [[0,3.7],[.1,3.1],[.2,2.85],[.3,2.8],[.4,3.1],[.5,3.7],[.6,4.5],[.7,5.4],[.8,6.4],[.9,7.5],[1.0,8.6]];
const curveA_MYH3 = [[0,1.2],[.1,.75],[.2,.55],[.3,.7],[.4,1.2],[.5,2.0],[.6,2.9],[.7,3.8],[.8,4.6],[.9,5.3],[1.0,5.75]];
const curveB_MEF2C = [[0,3.2],[.1,3.15],[.2,3.2],[.3,3.4],[.4,3.7],[.5,4.0],[.6,4.4],[.7,4.8],[.8,5.2],[.9,5.7],[1.0,6.05]];
const curveB_MYOG = [[0,.05],[.1,.4],[.2,.65],[.3,.85],[.4,1.05],[.5,1.25],[.6,1.5],[.7,1.8],[.8,2.1],[.9,2.5],[1.0,2.9]];
const curveC_ID1 = [[0,1.95],[.1,1.6],[.2,1.5],[.3,1.45],[.4,1.45],[.5,1.45],[.6,1.4],[.7,1.3],[.8,1.0],[.9,.55],[1.0,.1]];
const curveC_MEF2C = [[0,3.4],[.1,3.45],[.2,3.35],[.3,3.2],[.4,3.1],[.5,3.25],[.6,3.8],[.7,4.8],[.8,6.2],[.9,8.0],[1.0,10.3],[1.01,10.6]];
const curveD_CDK1 = [[0,2.35],[.1,2.0],[.2,1.75],[.3,1.55],[.4,1.4],[.5,1.3],[.6,1.2],[.7,1.1],[.8,.95],[.9,.75],[1.0,.4]];
const curveD_MEF2C = [[0,3.05],[.1,3.05],[.2,3.05],[.3,3.15],[.4,3.4],[.5,3.8],[.6,4.4],[.7,5.3],[.8,6.4],[.9,7.7],[1.0,8.95]];
const curveE_MYH3 = [[0,.75],[.1,1.1],[.2,1.3],[.3,1.45],[.4,1.6],[.5,1.8],[.6,2.0],[.7,2.35],[.8,2.75],[.9,3.25],[1.0,3.85]];
const curveE_MYOG = [[0,.4],[.1,.35],[.2,.35],[.3,.45],[.4,.65],[.5,.9],[.6,1.2],[.7,1.55],[.8,1.95],[.9,2.45],[1.0,2.95]];
const curveF_ID1 = [[0,1.95],[.1,1.6],[.2,1.45],[.3,1.4],[.4,1.4],[.5,1.4],[.6,1.4],[.7,1.35],[.8,1.1],[.9,.6],[1.0,.0]];
const curveF_MYH3 = [[0,.9],[.1,.85],[.2,.85],[.3,.9],[.4,1.0],[.5,1.2],[.6,1.6],[.7,2.5],[.8,3.8],[.9,5.5],[1.0,7.5]];
const curveG_CDK1 = [[0,1.25],[.1,1.8],[.2,2.1],[.3,2.1],[.4,1.85],[.5,1.5],[.6,1.1],[.7,.75],[.8,.45],[.9,.35],[1.0,.4]];
const curveG_MYH3 = [[0,.65],[.1,1.0],[.2,1.15],[.3,1.2],[.4,1.2],[.5,1.25],[.6,1.5],[.7,2.3],[.8,3.8],[.9,5.6],[1.0,7.7]];
const curveH_ID1 = [[0,2.1],[.1,1.45],[.2,1.15],[.3,1.05],[.4,1.05],[.5,1.15],[.6,1.25],[.7,1.3],[.8,1.15],[.9,.7],[1.0,.1]];
const curveH_MYOG = [[0,-.15],[.1,.25],[.2,.45],[.3,.55],[.4,.65],[.5,.8],[.6,1.1],[.7,1.7],[.8,2.6],[.9,3.7],[1.0,4.9]];
const curveI_CDK1 = [[0,1.65],[.1,1.9],[.2,2.0],[.3,1.9],[.4,1.65],[.5,1.35],[.6,1.05],[.7,.8],[.8,.6],[.9,.55],[1.0,.65]];
const curveI_MYOG = [[0,.1],[.1,.05],[.2,.25],[.3,.6],[.4,1.05],[.5,1.55],[.6,2.05],[.7,2.6],[.8,3.0],[.9,3.25],[1.0,3.4]];
const curveJ_CDK1 = [[0,1.5],[.1,1.85],[.2,2.05],[.3,2.0],[.4,1.8],[.5,1.45],[.6,1.1],[.7,.75],[.8,.5],[.9,.4],[1.0,.45]];
const curveJ_ID1 = [[0,1.4],[.1,1.6],[.2,1.75],[.3,1.75],[.4,1.65],[.5,1.5],[.6,1.25],[.7,.95],[.8,.7],[.9,.45],[1.0,.25]];

// ---------------- ASSEMBLY ----------------
const withZeros = (nz, z) => nz.concat(z.map(x => [x, 0]));
const allPoints = {MEF2C: withZeros(allMEF2C, allMEF2C0), MYH3: withZeros(allMYH3, allMYH30), MYOG: withZeros(allMYOG, allMYOG0), ID1: withZeros(allID1, allID10), CDK1: withZeros(allCDK1, allCDK10)};
const allCurves = {MEF2C: curveAllMEF2C, MYH3: curveAllMYH3, MYOG: curveAllMYOG, ID1: curveAllID1, CDK1: curveAllCDK1};
const yTicks = {MEF2C: yTicksMEF2C, MYH3: yTicksMYH3, MYOG: yTicksMYOG, ID1: yTicksID1, CDK1: yTicksCDK1};
const ltoPoints = [
  [withZeros(ltoA_MEF2C, ltoA_MEF2C0), withZeros(ltoA_MYH3, ltoA_MYH30)],
  [withZeros(ltoB_MEF2C, ltoB_MEF2C0), withZeros(ltoB_MYOG, ltoB_MYOG0)],
  [withZeros(ltoC_ID1, ltoC_ID10), withZeros(ltoC_MEF2C, ltoC_MEF2C0)],
  [withZeros(ltoD_CDK1, ltoD_CDK10), withZeros(ltoD_MEF2C, ltoD_MEF2C0)],
  [withZeros(ltoE_MYH3, ltoE_MYH30), withZeros(ltoE_MYOG, ltoE_MYOG0)],
  [withZeros(ltoF_ID1, ltoF_ID10), withZeros(ltoF_MYH3, ltoF_MYH30)],
  [withZeros(ltoG_CDK1, ltoG_CDK10), withZeros(ltoG_MYH3, ltoG_MYH30)],
  [withZeros(ltoH_ID1, ltoH_ID10), withZeros(ltoH_MYOG, ltoH_MYOG0)],
  [withZeros(ltoI_CDK1, ltoI_CDK10), withZeros(ltoI_MYOG, ltoI_MYOG0)],
  [withZeros(ltoJ_CDK1, ltoJ_CDK10), withZeros(ltoJ_ID1, ltoJ_ID10)]
];
const ltoCurves = [[curveA_MEF2C,curveA_MYH3],[curveB_MEF2C,curveB_MYOG],[curveC_ID1,curveC_MEF2C],[curveD_CDK1,curveD_MEF2C],[curveE_MYH3,curveE_MYOG],[curveF_ID1,curveF_MYH3],[curveG_CDK1,curveG_MYH3],[curveH_ID1,curveH_MYOG],[curveI_CDK1,curveI_MYOG],[curveJ_CDK1,curveJ_ID1]];

// ---------------- LAYOUT / STYLE ----------------
const FONT = 'Liberation Sans, Arial, Helvetica, sans-serif';
const colBase = [0, 460.8];
const rowH = 287.4;
const gap = 6.8;
const facetH = 104;
const rowTop = [32, 142.8];
const decimals = g => yTicks[g].some(v => v % 1 !== 0) ? 1 : 0;
const fmtY = g => v => v.toFixed(decimals(g));
const labelChars = g => Math.max(...yTicks[g].map(v => v.toFixed(decimals(g)).length));
const leftOffset = genes => { const n = Math.max(...genes.map(labelChars)); return n >= 4 ? 67 : (n === 3 ? 59.5 : 49); };

const grids = [], xAxes = [], yAxes = [], series = [], graphics = [];
const txt = (x, y, text, o) => Object.assign({type:'text', x, y, silent:true, style:Object.assign({text, fontFamily:FONT, textAlign:'center', textVerticalAlign:'middle'}, o.style)}, o.el || {});

panelGenes.forEach((genes, p) => {
  const col = p % 2, row = Math.floor(p / 2);
  const bx = colBase[col], oy = row * rowH;
  const L = bx + leftOffset(genes), R = bx + 435.6;
  const fw = (R - L - gap) / 2;
  let xs = [];
  genes.forEach((g, r) => { [allPoints[g], ltoPoints[p][r], allCurves[g], ltoCurves[p][r]].forEach(a => a.forEach(d => xs.push(d[0]))); });
  const xMinD = Math.min(...xs), xMaxD = Math.max(...xs), xPad = 0.05 * (xMaxD - xMinD);
  genes.forEach((g, r) => {
    let ys = [];
    [allPoints[g], ltoPoints[p][r], allCurves[g], ltoCurves[p][r]].forEach(a => a.forEach(d => ys.push(d[1])));
    const yMinD = Math.min(...ys), yMaxD = Math.max(...ys), yPad = 0.05 * (yMaxD - yMinD);
    const top = oy + rowTop[r];
    [0, 1].forEach(c => {
      const idx = grids.length;
      const fx = L + c * (fw + gap);
      grids.push({left: fx, top: top, width: fw, height: facetH, show: false});
      xAxes.push({gridIndex: idx, type: 'value', min: xMinD - xPad, max: xMaxD + xPad, show: r === 1,
        axisLine: {show: true, lineStyle: {color: '#000', width: 1}},
        axisTick: {show: true, customValues: xTicks, length: 3.5, lineStyle: {color: '#333', width: 1}},
        axisLabel: {show: true, customValues: xTicks, formatter: v => v.toFixed(1), color: '#4D4D4D', fontSize: 12.2, fontFamily: FONT, margin: 4.5},
        splitLine: {show: false}});
      yAxes.push({gridIndex: idx, type: 'value', min: yMinD - yPad, max: yMaxD + yPad, show: c === 0,
        axisLine: {show: true, lineStyle: {color: '#000', width: 1}},
        axisTick: {show: true, customValues: yTicks[g], length: 3.5, lineStyle: {color: '#333', width: 1}},
        axisLabel: {show: true, customValues: yTicks[g], formatter: fmtY(g), color: '#4D4D4D', fontSize: 12.2, fontFamily: FONT, margin: 5.5},
        splitLine: {show: false}});
      const pts = c === 0 ? allPoints[g] : ltoPoints[p][r];
      const crv = c === 0 ? allCurves[g] : ltoCurves[p][r];
      series.push({type: 'scatter', xAxisIndex: idx, yAxisIndex: idx, data: pts, symbolSize: 7, silent: true, z: 2,
        itemStyle: {color: 'rgba(0,0,0,0.55)', borderWidth: 0}});
      series.push({type: 'line', xAxisIndex: idx, yAxisIndex: idx, data: crv, smooth: 0.4, showSymbol: false, silent: true, z: 3,
        lineStyle: {color: '#FF0000', width: 3}});
      if (r === 0) {
        graphics.push({type: 'rect', silent: true, shape: {x: fx, y: oy + 9.5, width: fw, height: 22.5}, style: {fill: '#D9D9D9'}});
        graphics.push(txt(fx + fw / 2, oy + 21, stripLabels[c], {style: {fill: '#1A1A1A', fontSize: 12.2}}));
      }
    });
    graphics.push({type: 'rect', silent: true, shape: {x: R + 0.8, y: top, width: 20.5, height: facetH}, style: {fill: '#D9D9D9'}});
    graphics.push(txt(R + 0.8 + 10.5, top + facetH / 2, g, {style: {fill: '#1A1A1A', fontSize: 12.2}, el: {rotation: -Math.PI / 2}}));
  });
  graphics.push(txt((L + R) / 2, oy + 274, xTitle, {style: {fill: '#000', fontSize: 14.5}}));
  graphics.push(txt(bx + 22.7, oy + 139.8, yTitle, {style: {fill: '#000', fontSize: 14.5}, el: {rotation: Math.PI / 2}}));
  graphics.push(txt(bx + 13.5, oy + 17.5, panelLetters[p], {style: {fill: '#000', fontSize: 17, fontWeight: 'bold', textAlign: 'left'}}));
});

const chart = echarts.init(document.getElementById('c'), null, {renderer: 'canvas'});
chart.setOption({animation: false, backgroundColor: '#fff', grid: grids, xAxis: xAxes, yAxis: yAxes, series: series, graphic: {elements: graphics}});
</script></body></html>
